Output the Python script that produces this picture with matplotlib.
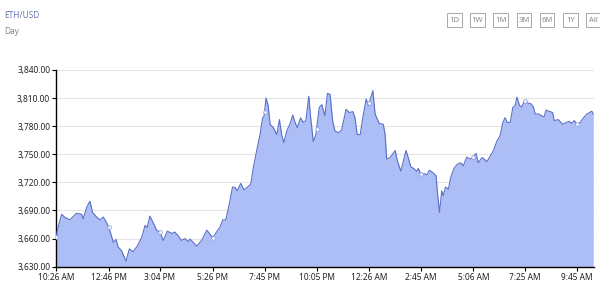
import numpy as np
import matplotlib
matplotlib.use("Agg")
import matplotlib.pyplot as plt
from matplotlib.patches import Rectangle
from matplotlib.ticker import FuncFormatter

# minutes elapsed since 10:26 AM
minutes = [0, 2, 14, 23, 36, 54, 68, 72, 81, 90, 97, 108, 117, 126, 136, 144, 153, 160, 166, 175,
           187, 196, 206, 217, 229, 238, 244, 251, 260, 269, 278, 287, 298, 310, 318, 327, 336, 345,
           354, 359, 377, 390, 404, 412, 420, 430, 439, 447, 455, 466, 473, 480, 486, 495, 504, 513,
           522, 529, 538, 547, 554, 558, 563, 569, 574, 583, 592, 599, 605, 611, 619, 627, 635, 641,
           647, 656, 663, 670, 678, 683, 690, 697, 706, 713, 721, 728, 735, 742, 748, 757, 766, 778,
           787, 796, 802, 808, 816, 823, 832, 838, 850, 856, 867, 878, 883, 887, 896, 901, 910, 916,
           925, 932, 939, 945, 952, 959, 968, 972, 979, 987, 995, 1002, 1011, 1020, 1023, 1029, 1035,
           1039, 1045, 1053, 1059, 1068, 1077, 1086, 1093, 1102, 1111, 1118, 1127, 1133, 1143, 1149,
           1156, 1165, 1174, 1183, 1192, 1199, 1205, 1211, 1219, 1226, 1232, 1237, 1244, 1250, 1257,
           1265, 1274, 1281, 1286, 1295, 1304, 1310, 1315, 1326, 1333, 1337, 1348, 1360, 1369, 1378,
           1384, 1391, 1398, 1407, 1416, 1425, 1432, 1438, 1442]
prices = [3662, 3668, 3686, 3682.6, 3680, 3687, 3686, 3681, 3693, 3700, 3688, 3683, 3680, 3683, 3676,
          3668, 3656, 3659, 3651, 3647, 3636, 3649, 3646, 3652, 3661, 3674, 3672, 3684, 3677, 3669,
          3667, 3658, 3668, 3665.5, 3667, 3663, 3658, 3660, 3657, 3659.5, 3652, 3658, 3669, 3665,
          3661, 3667, 3672, 3680, 3680, 3700, 3715, 3714.5, 3711, 3719, 3712, 3715, 3718, 3736, 3754,
          3771, 3789, 3791, 3810, 3802, 3782, 3778.5, 3771, 3787, 3771, 3762.5, 3775, 3782, 3792, 3784,
          3778.5, 3789, 3784, 3786, 3812, 3789, 3763.6, 3771, 3800, 3803, 3791, 3815, 3814, 3785.6,
          3775, 3773, 3775.7, 3798, 3794.5, 3795.6, 3789, 3771, 3771, 3789, 3809, 3802, 3818, 3793,
          3783, 3782, 3771, 3745, 3746.5, 3749, 3754, 3743, 3732, 3743, 3754, 3746.5, 3736.6, 3735,
          3732, 3735, 3729, 3729.5, 3728, 3733, 3730.5, 3727, 3711, 3688, 3711, 3705.7, 3715, 3713,
          3725, 3735, 3739.5, 3741, 3737.7, 3747, 3745, 3746, 3751, 3741, 3746.5, 3745, 3742, 3748,
          3754, 3764, 3770, 3784, 3789, 3784, 3784, 3800, 3802, 3811, 3802, 3800.6, 3807, 3805, 3804,
          3800.6, 3793, 3793, 3791, 3790, 3797, 3795.6, 3794.5, 3786, 3787, 3782, 3784, 3785, 3783,
          3786, 3782, 3784, 3789, 3793, 3794.5, 3796, 3793]

x_tick_labels = ["10:26 AM", "12:46 PM", "3:04 PM", "5:26 PM", "7:45 PM", "10:05 PM",
                 "12:26 AM", "2:45 AM", "5:06 AM", "7:25 AM", "9:45 AM"]
y_ticks = [3630, 3660, 3690, 3720, 3750, 3780, 3810, 3840]
title = "ETH/USD"
subtitle = "Day"
range_buttons = ["1D", "1W", "1M", "3M", "6M", "1Y", "All"]


def clock_to_min(s):
    t, ap = s.split()
    h, m = map(int, t.split(":"))
    h = h % 12 + (12 if ap == "PM" else 0)
    return h * 60 + m


start = clock_to_min(x_tick_labels[0])
tick_min = []
for lab in x_tick_labels:
    v = clock_to_min(lab) - start
    if v < 0:
        v += 1440
    tick_min.append(v)

FONT = "Noto Sans"
fig = plt.figure(figsize=(6.0, 2.91), dpi=100)
ax = fig.add_axes([0.094, 0.0835, 0.896, 0.676])

x = np.array(minutes)
y = np.array(prices)
fill_c = "#adbdf6"
line_c = "#5a6fc6"
ax.fill_between(x, y_ticks[0], y, color=fill_c, lw=0, zorder=2)
ax.plot(x, y, color=line_c, lw=0.8, zorder=3)
mk_y = np.interp(tick_min, x, y)
ax.plot(tick_min, mk_y, ls="none", marker="o", ms=2.6, mfc="white", mec="#8fa2e6", mew=0.6, zorder=4)

ax.set_xlim(0, 1444)
ax.set_ylim(y_ticks[0], y_ticks[-1])
ax.set_yticks(y_ticks)
ax.yaxis.set_major_formatter(FuncFormatter(lambda v, p: f"{v:,.2f}"))
ax.set_xticks(tick_min)
ax.set_xticklabels(x_tick_labels)
ax.grid(axis="y", color="#e4e4e4", lw=0.8, zorder=0)
ax.set_axisbelow(True)
for s in ["top", "right"]:
    ax.spines[s].set_visible(False)
for s in ["left", "bottom"]:
    ax.spines[s].set_color("black")
    ax.spines[s].set_linewidth(1.0)
ax.tick_params(axis="both", length=3, width=0.8, color="black", direction="out",
               labelsize=6, labelcolor="#222222", pad=1.5)
for lab in ax.get_xticklabels() + ax.get_yticklabels():
    lab.set_fontfamily(FONT)

fig.text(4 / 600, 1 - 15 / 291, title, fontsize=6, color="#6b78b0", family=FONT, va="center")
fig.text(4 / 600, 1 - 31 / 291, subtitle, fontsize=6, color="#888888", family=FONT, va="center")

bx0 = 447
for i, b in enumerate(range_buttons):
    left = (bx0 + i * 23.2) / 600
    rect = Rectangle((left, 1 - 27 / 291), 14.5 / 600, 14 / 291, transform=fig.transFigure,
                     facecolor="white", edgecolor="#9a9a9a", lw=0.6)
    fig.add_artist(rect)
    fig.text(left + 7.25 / 600, 1 - 20 / 291, b, fontsize=5.5, color="#888888",
             family=FONT, ha="center", va="center")

fig.savefig("out.png", dpi=100)
